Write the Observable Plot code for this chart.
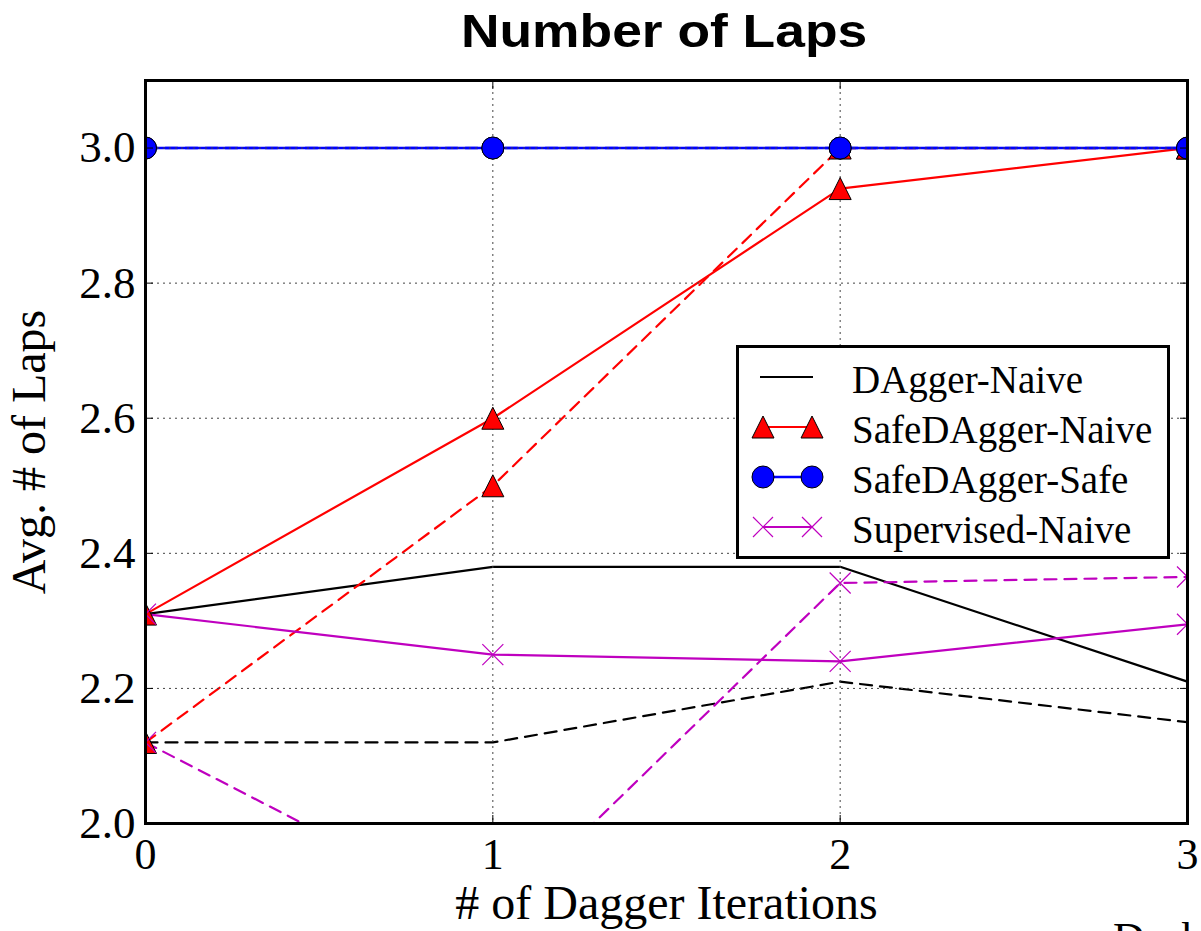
<!DOCTYPE html>
<html>
<head>
<meta charset="utf-8">
<script src="https://cdn.jsdelivr.net/npm/d3@7"></script>
<script src="https://cdn.jsdelivr.net/npm/@observablehq/plot@0.6"></script>
<style>
  html, body { margin: 0; padding: 0; background: #fff; overflow: hidden; }
  #wrap { position: relative; width: 1201px; height: 931px; overflow: hidden; }
  #title { position: absolute; left: 0; top: 4px; width: 1328px; height: 65px; line-height: 65px;
           text-align: center; font: bold 46px "Liberation Sans", Arial, sans-serif; color: #000; }
  #title span { display: inline-block; transform: scaleX(1.16); }
  #chart { position: absolute; left: 0; top: 65px; }
  #legend { position: absolute; left: 736px; top: 345px; width: 434px; height: 214px; box-sizing: border-box;
            border: 3px solid #000; background: #fff; }
  #legend .sw { position: absolute; left: 10px; width: 90px; height: 40px; }
  #legend .lab { position: absolute; left: 113px; height: 40px; line-height: 40px; white-space: nowrap;
                 font: 39px "Liberation Serif", serif; color: #000; }
  #caption { position: absolute; left: 1113px; top: 917px; font: 44px "Liberation Serif", serif; line-height: 44px; white-space: nowrap; }
</style>
</head>
<body>
<div id="wrap">
  <div id="title"><span>Number of Laps</span></div>
  <div id="chart"></div>
  <div id="legend"></div>
  <div id="caption">Dashed lines</div>
</div>
<script>
// ---------------- data ----------------
const iterations = [0, 1, 2, 3];
const seriesNames = ["DAgger-Naive", "SafeDAgger-Naive", "SafeDAgger-Safe", "Supervised-Naive"];
const seriesColors = ["#000000", "#ff0000", "#0000ff", "#bf00bf"];
const seriesMarkers = ["none", "triangle", "circle", "times"];

// solid lines
const daggerNaive        = [2.31, 2.38, 2.38, 2.21];
const safeDaggerNaive    = [2.31, 2.60, 2.94, 3.00];
const safeDaggerSafe     = [3.00, 3.00, 3.00, 3.00];
const supervisedNaive    = [2.31, 2.25, 2.24, 2.295];
// dashed lines
const daggerNaiveD       = [2.12, 2.12, 2.21, 2.15];
const safeDaggerNaiveD   = [2.12, 2.50, 3.00, 3.00];
const safeDaggerSafeD    = [3.00, 3.00, 3.00, 3.00];
const supervisedNaiveD   = [2.12, 1.855, 2.356, 2.365];

const xTicks = [0, 1, 2, 3];
const yTicks = [2.0, 2.2, 2.4, 2.6, 2.8, 3.0];
const xLabel = "# of Dagger Iterations";
const yLabel = "Avg. # of Laps";

// ---------------- build table ----------------
const solidValues = [daggerNaive, safeDaggerNaive, safeDaggerSafe, supervisedNaive];
const dashedValues = [daggerNaiveD, safeDaggerNaiveD, safeDaggerSafeD, supervisedNaiveD];
const rows = [];
seriesNames.forEach((name, s) => {
  [["solid", solidValues[s]], ["dashed", dashedValues[s]]].forEach(([style, vals]) => {
    vals.forEach((v, i) => rows.push({series: name, style, x: iterations[i], y: v}));
  });
});

// matplotlib-like "^" marker centred on its bounding box
const triangleUp = {
  draw(context, size) {
    const r = Math.sqrt(size / Math.PI);
    context.moveTo(0, -r);
    context.lineTo(r, r);
    context.lineTo(-r, r);
    context.closePath();
  }
};
const markerSpec = {
  triangle: {symbol: triangleUp, r: 11, stroke: "#000", strokeWidth: 1},
  circle: {symbol: "circle", r: 11, stroke: "#000", strokeWidth: 1},
  times: {symbol: "times", r: 9.6, strokeWidth: 1.2}
};

const lineMarks = [];
const dotMarks = [];
seriesNames.forEach((name, s) => {
  const color = seriesColors[s];
  ["solid", "dashed"].forEach(style => {
    const d = rows.filter(r => r.series === name && r.style === style);
    lineMarks.push(Plot.line(d, {
      x: "x", y: "y", stroke: color,
      strokeWidth: s === 2 ? 2.6 : 2.2,
      strokeDasharray: style === "dashed" ? "12,8" : null,
      clip: true
    }));
  });
});
seriesNames.forEach((name, s) => {
  const m = seriesMarkers[s];
  if (m === "none") return;
  const color = seriesColors[s];
  const spec = markerSpec[m];
  ["solid", "dashed"].forEach(style => {
    const d = rows.filter(r => r.series === name && r.style === style);
    if (m === "times") {
      dotMarks.push(Plot.dot(d, {x: "x", y: "y", symbol: spec.symbol, r: spec.r, stroke: color, strokeWidth: spec.strokeWidth, clip: true}));
    } else {
      dotMarks.push(Plot.dot(d, {x: "x", y: "y", symbol: spec.symbol, r: spec.r, fill: color, stroke: spec.stroke, strokeWidth: spec.strokeWidth, clip: true}));
    }
  });
});

const gridStyle = {stroke: "#444", strokeOpacity: 1, strokeWidth: 1, strokeDasharray: "2,4"};
const blank = () => "";

const chart = Plot.plot({
  width: 1201,
  height: 866,
  marginTop: 15,
  marginBottom: 108,
  marginLeft: 145,
  marginRight: 14,
  x: {domain: [0, 3]},
  y: {domain: [2.0, 3.1]},
  style: {fontFamily: '"Liberation Serif", serif', background: "white", color: "black", overflow: "visible"},
  marks: [
    ...lineMarks,
    Plot.gridX(xTicks, gridStyle),
    Plot.gridY(yTicks, gridStyle),
    ...dotMarks,
    Plot.frame({stroke: "#000", strokeWidth: 3}),
    // inward tick marks on all four sides
    Plot.axisX(xTicks, {anchor: "bottom", tickSize: 8, dy: -8, tickFormat: blank, label: null, strokeWidth: 1}),
    Plot.axisX(xTicks, {anchor: "top", tickSize: 8, dy: 8, tickFormat: blank, label: null, strokeWidth: 1}),
    Plot.axisY(yTicks, {anchor: "left", tickSize: 8, dx: 8, tickFormat: blank, label: null, strokeWidth: 1}),
    Plot.axisY(yTicks, {anchor: "right", tickSize: 8, dx: -8, tickFormat: blank, label: null, strokeWidth: 1}),
    // tick labels
    Plot.axisX(xTicks, {anchor: "bottom", tickSize: 0, tickPadding: 14, fontSize: 44,
      tickFormat: d => String(d), label: null}),
    Plot.axisY(yTicks, {anchor: "left", tickSize: 0, tickPadding: 10, fontSize: 45,
      tickFormat: d => d.toFixed(1), label: null}),
    // axis titles
    Plot.axisX(xTicks, {anchor: "bottom", tickSize: 0, fontSize: 48, tickFormat: blank,
      label: xLabel, labelAnchor: "center", labelArrow: "none", labelOffset: 95}),
    Plot.axisY(yTicks, {anchor: "left", tickSize: 0, fontSize: 48, tickFormat: blank,
      label: yLabel, labelAnchor: "center", labelArrow: "none", labelOffset: 135})
  ]
});
document.getElementById("chart").appendChild(chart);

// ---------------- legend ----------------
const legend = document.getElementById("legend");
seriesNames.forEach((name, s) => {
  const cy = 29 + 50 * s;
  const color = seriesColors[s];
  const m = seriesMarkers[s];
  let markers = "";
  const mx = [14, 63];
  if (m === "triangle") {
    markers = mx.map(x => `<path d="M${x},9L${x + 11},31L${x - 11},31Z" fill="${color}" stroke="#000" stroke-width="1"/>`).join("");
  } else if (m === "circle") {
    markers = mx.map(x => `<circle cx="${x}" cy="20" r="11" fill="${color}" stroke="#000" stroke-width="1"/>`).join("");
  } else if (m === "times") {
    markers = mx.map(x => `<path d="M${x - 10},10L${x + 10},30M${x - 10},30L${x + 10},10" stroke="${color}" stroke-width="1.2" fill="none"/>`).join("");
  }
  const lx1 = m === "none" ? 11 : 14, lx2 = m === "none" ? 64 : 63;
  const sw = document.createElement("div");
  sw.className = "sw";
  sw.style.top = (cy - 20) + "px";
  sw.innerHTML = `<svg width="90" height="40"><line x1="${lx1}" y1="20" x2="${lx2}" y2="20" stroke="${color}" stroke-width="${s === 2 ? 2.6 : 2.2}"/>${markers}</svg>`;
  legend.appendChild(sw);
  const lab = document.createElement("div");
  lab.className = "lab";
  lab.style.top = (cy - 20) + "px";
  lab.textContent = name;
  legend.appendChild(lab);
});
</script>
</body>
</html>
